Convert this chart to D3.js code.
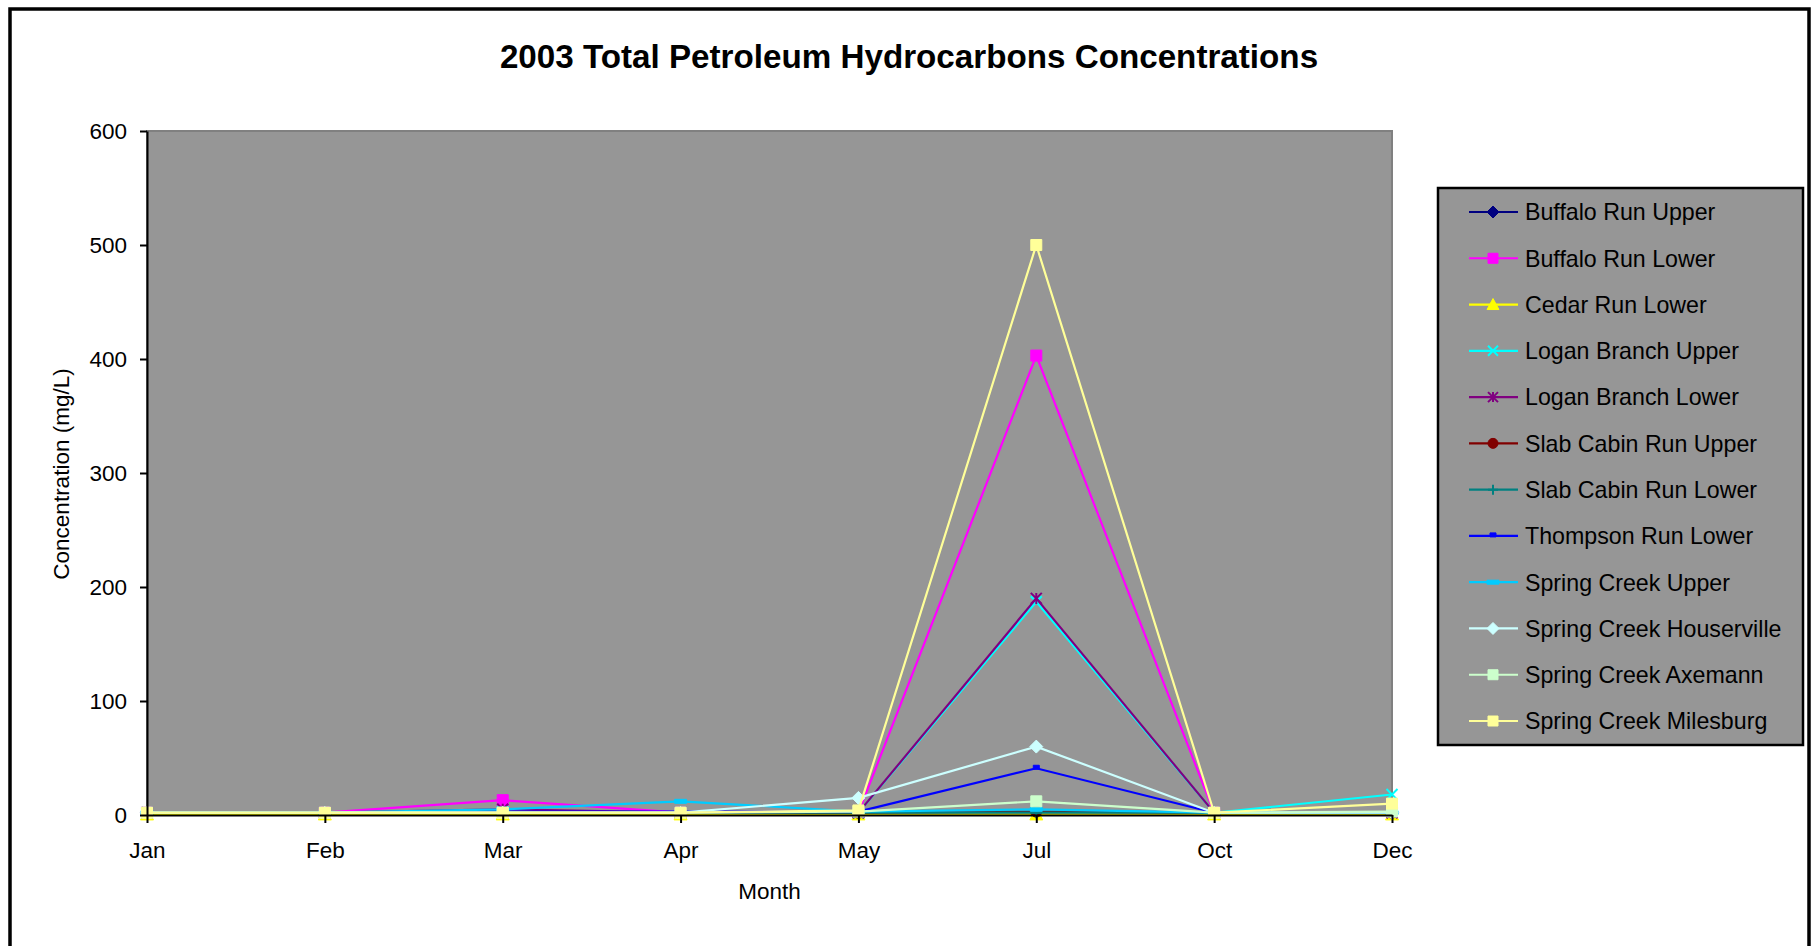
<!DOCTYPE html>
<html lang="en">
<head>
    <meta charset="UTF-8">
    <title>2003 Total Petroleum Hydrocarbons Concentrations</title>
    <script src="https://cdn.jsdelivr.net/npm/d3@7"></script>
    <style>
        body { margin: 0; background: #fff; }
        text { font-family: "Liberation Sans", Arial, sans-serif; fill: #000; }
        .title { font-size: 33.2px; font-weight: bold; text-anchor: middle; }
        .axis text { font-size: 22.5px; }
        .axis path, .axis line { stroke: #000; stroke-width: 2; }
        .axis-label { font-size: 22.5px; text-anchor: middle; }
        .legend text { font-size: 23.2px; }
    </style>
</head>
<body>
    <script>
        // months sampled in 2003
        const months = ["Jan", "Feb", "Mar", "Apr", "May", "Jul", "Oct", "Dec"];
        const yTicks = [0, 100, 200, 300, 400, 500, 600];

        const seriesNames = [
            "Buffalo Run Upper", "Buffalo Run Lower", "Cedar Run Lower",
            "Logan Branch Upper", "Logan Branch Lower", "Slab Cabin Run Upper",
            "Slab Cabin Run Lower", "Thompson Run Lower", "Spring Creek Upper",
            "Spring Creek Houserville", "Spring Creek Axemann", "Spring Creek Milesburg"
        ];

        // TPH values (mg/L), one row per series, in month order
        const buffaloUpper   = [2, 2, 2, 2, 2, 2, 2, 2];
        const buffaloLower   = [2, 2, 13, 2, 2, 403, 2, 2];
        const cedarLower     = [0.5, 0.5, 0.5, 0.5, 0.5, 0.5, 0.5, 0.5];
        const loganUpper     = [2, 2, 3, 2, 2, 187, 2, 18];
        const loganLower     = [2, 2, 5, 2, 2, 190, 2, 2];
        const slabUpper      = [2, 2, 2, 2, 2, 3, 2, 2];
        const slabLower      = [2, 2, 2, 2, 2, 2, 2, 2];
        const thompsonLower  = [2, 2, 3, 3, 3, 41, 2, 2];
        const springUpper    = [2, 2, 5, 12, 3, 5, 2, 2];
        const springHouser   = [2, 2, 2, 2, 15, 60, 2, 2];
        const springAxemann  = [2, 2, 2, 2, 3, 12, 2, 3];
        const springMilesbrg = [2, 2, 2, 2, 4, 500, 2, 10];

        const seriesValues = [buffaloUpper, buffaloLower, cedarLower, loganUpper, loganLower,
            slabUpper, slabLower, thompsonLower, springUpper, springHouser, springAxemann, springMilesbrg];

        const colors = ["#000080", "#ff00ff", "#ffff00", "#00ffff", "#800080", "#800000",
            "#008080", "#0000ff", "#00ccff", "#ccffff", "#ccffcc", "#ffff99"];
        const markers = ["diamond", "square", "triangle", "x", "star", "circle",
            "plus", "dash", "bar", "diamond", "square", "square"];

        const width = 1818, height = 946;
        const plot = { left: 147, right: 1392, top: 131, bottom: 815 };

        const svg = d3.select("body").append("svg")
            .attr("width", width)
            .attr("height", height);

        // outer chart frame
        svg.append("rect")
            .attr("x", 10).attr("y", 9)
            .attr("width", 1799).attr("height", 980)
            .attr("fill", "#fff").attr("stroke", "#000").attr("stroke-width", 3.5);

        svg.append("text")
            .attr("class", "title")
            .attr("x", 909).attr("y", 68)
            .text("2003 Total Petroleum Hydrocarbons Concentrations");

        const x = d3.scalePoint().domain(months).range([plot.left, plot.right]).padding(0);
        const y = d3.scaleLinear().domain([0, 600]).range([plot.bottom, plot.top]);

        svg.append("rect")
            .attr("x", plot.left).attr("y", plot.top)
            .attr("width", plot.right - plot.left).attr("height", plot.bottom - plot.top)
            .attr("fill", "#969696").attr("stroke", "#808080").attr("stroke-width", 2);

        // marker shapes, drawn around 0,0
        function markerPath(type, s) {
            const h = s / 2;
            switch (type) {
                case "diamond": return `M0,${-h - 1}L${h + 1},0L0,${h + 1}L${-h - 1},0Z`;
                case "square": return `M${-h},${-h}H${h}V${h}H${-h}Z`;
                case "triangle": return `M0,${-h - 1}L${h + 1},${h}L${-h - 1},${h}Z`;
                case "circle": return d3.arc()({ innerRadius: 0, outerRadius: h, startAngle: 0, endAngle: 2 * Math.PI });
                case "x": return `M${-h},${-h}L${h},${h}M${-h},${h}L${h},${-h}`;
                case "star": return `M${-h},${-h}L${h},${h}M${-h},${h}L${h},${-h}M0,${-h}V${h}`;
                case "plus": return `M0,${-h}V${h}M${-h},0H${h}`;
                case "dash": return `M-3,-3H3V1H-3Z`;
                case "bar": return `M-6,-2H6V2H-6Z`;
            }
        }
        const strokeOnly = t => t === "x" || t === "star" || t === "plus";

        const line = d3.line()
            .x((d, i) => x(months[i]))
            .y(d => y(d));

        const gSeries = svg.append("g");
        seriesValues.forEach((vals, k) => {
            const g = gSeries.append("g");
            g.append("path")
                .attr("d", line(vals))
                .attr("fill", "none")
                .attr("stroke", colors[k])
                .attr("stroke-width", 2.2);
            g.selectAll("path.mk")
                .data(vals)
                .join("path")
                .attr("class", "mk")
                .attr("transform", (d, i) => `translate(${x(months[i])},${y(d)})`)
                .attr("d", markerPath(markers[k], 11))
                .attr("fill", strokeOnly(markers[k]) ? "none" : colors[k])
                .attr("stroke", colors[k])
                .attr("stroke-width", strokeOnly(markers[k]) ? 2 : 1);
        });

        // axes
        svg.append("g")
            .attr("class", "axis")
            .attr("transform", `translate(${plot.left},0)`)
            .call(d3.axisLeft(y).tickValues(yTicks).tickSize(7).tickSizeOuter(0).tickPadding(13));

        svg.append("g")
            .attr("class", "axis")
            .attr("transform", `translate(0,${plot.bottom})`)
            .call(d3.axisBottom(x).tickSize(8).tickSizeOuter(0).tickPadding(19));

        svg.append("text")
            .attr("class", "axis-label")
            .attr("x", (plot.left + plot.right) / 2)
            .attr("y", 899)
            .text("Month");

        svg.append("text")
            .attr("class", "axis-label")
            .attr("transform", "translate(69,474) rotate(-90)")
            .text("Concentration (mg/L)");

        // legend
        const legend = svg.append("g").attr("class", "legend");
        legend.append("rect")
            .attr("x", 1438).attr("y", 188)
            .attr("width", 365).attr("height", 557)
            .attr("fill", "#969696").attr("stroke", "#000").attr("stroke-width", 2.5);

        const rowY = d3.scalePoint().domain(seriesNames).range([212, 721]);
        const items = legend.selectAll("g.item")
            .data(seriesNames)
            .join("g")
            .attr("class", "item")
            .attr("transform", d => `translate(0,${rowY(d)})`);

        items.append("line")
            .attr("x1", 1469).attr("x2", 1518)
            .attr("stroke", (d, i) => colors[i])
            .attr("stroke-width", 2.2);
        items.append("path")
            .attr("transform", "translate(1493,0)")
            .attr("d", (d, i) => markerPath(markers[i], 10))
            .attr("fill", (d, i) => strokeOnly(markers[i]) ? "none" : colors[i])
            .attr("stroke", (d, i) => colors[i])
            .attr("stroke-width", (d, i) => strokeOnly(markers[i]) ? 2 : 1);
        items.append("text")
            .attr("x", 1525)
            .attr("dy", "0.36em")
            .text(d => d);
    </script>
</body>
</html>
